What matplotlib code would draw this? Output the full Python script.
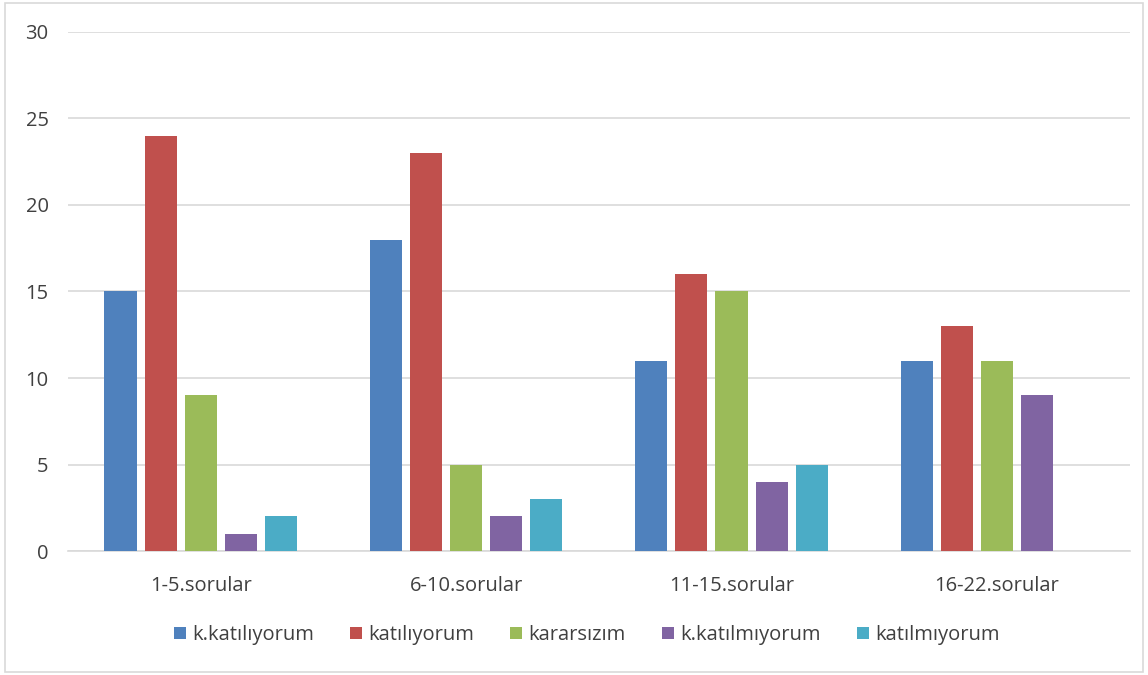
import numpy as np
import matplotlib
matplotlib.use("Agg")
import matplotlib.pyplot as plt
from matplotlib.patches import Rectangle

plt.rcParams['font.family'] = ['Open Sans', 'DejaVu Sans']

categories = ["1-5.sorular", "6-10.sorular", "11-15.sorular", "16-22.sorular"]
series_names = ["k.katılıyorum", "katılıyorum", "kararsızım", "k.katılmıyorum", "katılmıyorum"]
k_katiliyorum = [15, 18, 11, 11]
katiliyorum = [24, 23, 16, 13]
kararsizim = [9, 5, 15, 11]
k_katilmiyorum = [1, 2, 4, 9]
katilmiyorum = [2, 3, 5, 0]
colors = ["#4F81BD", "#C0504D", "#9BBB59", "#8064A2", "#4BACC6"]

series = [k_katiliyorum, katiliyorum, kararsizim, k_katilmiyorum, katilmiyorum]

fig = plt.figure(figsize=(11.48, 6.75), dpi=100)
ax = fig.add_axes([0.0592, 0.1837, 0.9248, 0.7689])

x = np.arange(len(categories))
step = 0.151
width = 0.121
for i, (vals, name, c) in enumerate(zip(series, series_names, colors)):
    ax.bar(x + (i - 2) * step, vals, width=width, color=c, label=name, zorder=3)

ax.set_xlim(-0.5, len(categories) - 0.5)
ax.set_ylim(0, 30)
ax.set_yticks(range(0, 31, 5))
ax.yaxis.grid(True, color="#D9D9D9", linewidth=1.2, zorder=0)
ax.set_xticks(x)
ax.set_xticklabels(categories)
ax.tick_params(axis="both", length=0, labelsize=14.5, colors="#404040")
ax.tick_params(axis="x", pad=18)
ax.tick_params(axis="y", pad=14)
for s in ["top", "right", "left"]:
    ax.spines[s].set_visible(False)
ax.spines["bottom"].set_color("#D9D9D9")
ax.spines["bottom"].set_linewidth(1.2)

fig.legend(loc="center", bbox_to_anchor=(0.511, 0.059), ncol=5, frameon=False,
           fontsize=14.5, labelcolor="#404040", handlelength=0.6, handleheight=0.6,
           handletextpad=0.3, columnspacing=1.8)

fig.patches.append(Rectangle((0.004, 0.004), 0.992, 0.992, transform=fig.transFigure,
                             fill=False, edgecolor="#D9D9D9", linewidth=1.2))

fig.savefig("out.png", dpi=100)
